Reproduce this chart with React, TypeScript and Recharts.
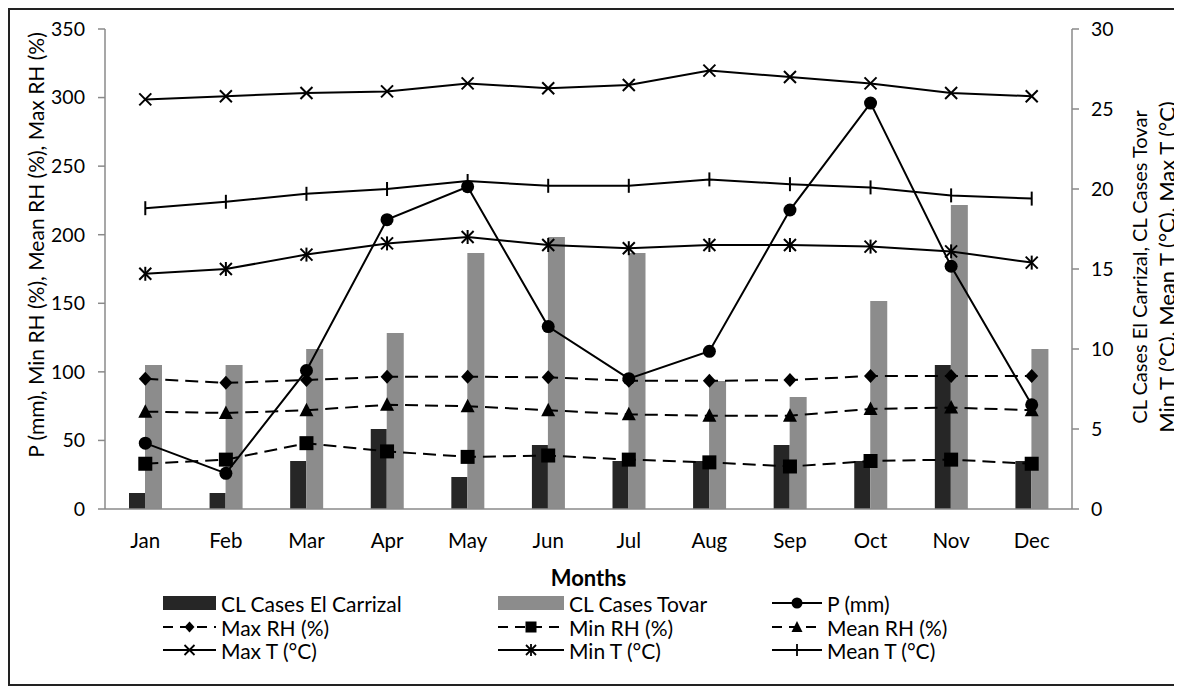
import React from 'react';
import { ComposedChart, Bar, Line, XAxis, YAxis, Legend } from 'recharts';

const months = ['Jan', 'Feb', 'Mar', 'Apr', 'May', 'Jun', 'Jul', 'Aug', 'Sep', 'Oct', 'Nov', 'Dec'];
const casesCarrizal = [1, 1, 3, 5, 2, 4, 3, 3, 4, 3, 9, 3];
const casesTovar = [9, 9, 10, 11, 16, 17, 16, 8, 7, 13, 19, 10];
const precip = [48, 26, 101, 211, 235, 133, 95, 115, 218, 296, 177, 76];
const maxRH = [95, 92, 94, 96.5, 96.5, 96, 93.5, 93.5, 94, 97, 97, 97];
const meanRH = [71, 70, 72, 76, 75, 72, 69, 68, 68, 73, 74, 72];
const minRH = [33, 36, 48, 42, 38, 39, 36, 34, 31, 35, 36, 33];
const maxT = [25.6, 25.8, 26.0, 26.1, 26.6, 26.3, 26.5, 27.4, 27.0, 26.6, 26.0, 25.8];
const meanT = [18.8, 19.2, 19.7, 20.0, 20.5, 20.2, 20.2, 20.6, 20.3, 20.1, 19.6, 19.4];
const minT = [14.7, 15.0, 15.9, 16.6, 17.0, 16.5, 16.3, 16.5, 16.5, 16.4, 16.1, 15.4];
const leftTicks = [0, 50, 100, 150, 200, 250, 300, 350];
const rightTicks = [0, 5, 10, 15, 20, 25, 30];

const data = months.map((m, i) => ({
  month: m,
  carrizal: casesCarrizal[i],
  tovar: casesTovar[i],
  p: precip[i],
  maxRH: maxRH[i],
  minRH: minRH[i],
  meanRH: meanRH[i],
  maxT: maxT[i],
  minT: minT[i],
  meanT: meanT[i],
}));

const FONT = 'Lato, Calibri, sans-serif';
const DASH = '13 7';

type ShapeFn = (cx: number, cy: number) => React.ReactNode;

const shapes: Record<string, ShapeFn> = {
  circle: (cx, cy) => <circle cx={cx} cy={cy} r={6.5} fill="#000" />,
  diamond: (cx, cy) => (
    <path d={`M${cx},${cy - 7}L${cx + 6.5},${cy}L${cx},${cy + 7}L${cx - 6.5},${cy}Z`} fill="#000" />
  ),
  square: (cx, cy) => <rect x={cx - 7} y={cy - 7} width={14} height={14} fill="#000" />,
  triangle: (cx, cy) => (
    <path d={`M${cx},${cy - 7.5}L${cx + 7},${cy + 6}L${cx - 7},${cy + 6}Z`} fill="#000" />
  ),
  cross: (cx, cy) => (
    <g stroke="#000" strokeWidth={2}>
      <line x1={cx - 6} y1={cy - 6} x2={cx + 6} y2={cy + 6} />
      <line x1={cx - 6} y1={cy + 6} x2={cx + 6} y2={cy - 6} />
    </g>
  ),
  star: (cx, cy) => (
    <g stroke="#000" strokeWidth={2}>
      <line x1={cx - 6} y1={cy - 6} x2={cx + 6} y2={cy + 6} />
      <line x1={cx - 6} y1={cy + 6} x2={cx + 6} y2={cy - 6} />
      <line x1={cx} y1={cy - 7} x2={cx} y2={cy + 7} />
    </g>
  ),
  tick: (cx, cy) => (
    <g stroke="#000" strokeWidth={2}>
      <line x1={cx} y1={cy - 7} x2={cx} y2={cy + 7} />
    </g>
  ),
};

const legendShapes: Record<string, ShapeFn> = {
  circle: (cx, cy) => <circle cx={cx} cy={cy} r={5.5} fill="#000" />,
  diamond: (cx, cy) => (
    <path d={`M${cx},${cy - 5.5}L${cx + 5},${cy}L${cx},${cy + 5.5}L${cx - 5},${cy}Z`} fill="#000" />
  ),
  square: (cx, cy) => <rect x={cx - 5.5} y={cy - 5.5} width={11} height={11} fill="#000" />,
  triangle: (cx, cy) => (
    <path d={`M${cx},${cy - 6}L${cx + 5.5},${cy + 5}L${cx - 5.5},${cy + 5}Z`} fill="#000" />
  ),
  cross: (cx, cy) => (
    <g stroke="#000" strokeWidth={1.8}>
      <line x1={cx - 5} y1={cy - 5} x2={cx + 5} y2={cy + 5} />
      <line x1={cx - 5} y1={cy + 5} x2={cx + 5} y2={cy - 5} />
    </g>
  ),
  star: (cx, cy) => (
    <g stroke="#000" strokeWidth={1.8}>
      <line x1={cx - 5} y1={cy - 5} x2={cx + 5} y2={cy + 5} />
      <line x1={cx - 5} y1={cy + 5} x2={cx + 5} y2={cy - 5} />
      <line x1={cx} y1={cy - 6} x2={cx} y2={cy + 6} />
    </g>
  ),
  tick: (cx, cy) => (
    <g stroke="#000" strokeWidth={1.8}>
      <line x1={cx} y1={cy - 6} x2={cx} y2={cy + 6} />
    </g>
  ),
};

const makeDot = (name: string, shape: string) => (props: any) => {
  const { cx, cy, index } = props;
  if (cx == null || cy == null) return <g key={`${name}-${index}`} />;
  return <g key={`${name}-${index}`}>{shapes[shape](cx, cy)}</g>;
};

const legendItems = [
  { label: 'CL Cases El Carrizal', kind: 'bar', color: '#262626' },
  { label: 'CL Cases Tovar', kind: 'bar', color: '#8c8c8c' },
  { label: 'P (mm)', kind: 'line', shape: 'circle', dash: false },
  { label: 'Max RH (%)', kind: 'line', shape: 'diamond', dash: true },
  { label: 'Min RH (%)', kind: 'line', shape: 'square', dash: true },
  { label: 'Mean RH (%)', kind: 'line', shape: 'triangle', dash: true },
  { label: 'Max T (°C)', kind: 'line', shape: 'cross', dash: false },
  { label: 'Min T (°C)', kind: 'line', shape: 'star', dash: false },
  { label: 'Mean T (°C)', kind: 'line', shape: 'tick', dash: false },
];

const colX = [153, 488, 762];
const colIconW = [53, 66, 50];
const rowY = [593, 617, 640];

const renderLegend = () => (
  <div style={{ position: 'relative', width: 1168, height: 90 }}>
    {legendItems.map((it, i) => {
      const col = i % 3;
      const row = Math.floor(i / 3);
      const x = colX[col];
      const y = rowY[row] - 580;
      const iconW = colIconW[col];
      return (
        <div
          key={it.label}
          style={{ position: 'absolute', left: x, top: y - 11, height: 22, display: 'flex', alignItems: 'center' }}
        >
          <svg width={iconW} height={22} style={{ display: 'block' }}>
            {it.kind === 'bar' ? (
              <rect x={0} y={4} width={iconW} height={14} fill={it.color} />
            ) : (
              <g>
                <line
                  x1={0}
                  y1={11}
                  x2={iconW}
                  y2={11}
                  stroke="#000"
                  strokeWidth={2}
                  strokeDasharray={it.dash ? '10 7' : undefined}
                />
                {legendShapes[it.shape as string](iconW / 2, 11)}
              </g>
            )}
          </svg>
          <span
            style={{
              fontFamily: FONT,
              fontSize: 21,
              lineHeight: '21px',
              color: '#000',
              marginLeft: 5,
              whiteSpace: 'nowrap',
            }}
          >
            {it.label}
          </span>
        </div>
      );
    })}
  </div>
);

const LeftLabel = () => {
  const cy = 235;
  const x = 25;
  return (
    <text
      x={x}
      y={cy}
      transform={`rotate(-90, ${x}, ${cy})`}
      textAnchor="middle"
      dominantBaseline="central"
      fontFamily={FONT}
      fontSize={21}
      fill="#000"
    >
      P (mm), Min RH (%), Mean RH (%), Max RH (%)
    </text>
  );
};

const RightLabel = (props: any) => {
  const vb = props.viewBox || {};
  const cy = vb.y + vb.height / 2 - 2;
  const x1 = 1129;
  const x2 = 1156;
  return (
    <g>
      <text
        x={x1}
        y={cy}
        transform={`rotate(-90, ${x1}, ${cy})`}
        textAnchor="middle"
        dominantBaseline="central"
        fontFamily={FONT}
        fontSize={20}
        fill="#000"
      >
        CL Cases El Carrizal, CL Cases Tovar
      </text>
      <text
        x={x2}
        y={cy}
        transform={`rotate(-90, ${x2}, ${cy})`}
        textAnchor="middle"
        dominantBaseline="central"
        fontFamily={FONT}
        fontSize={22}
        fill="#000"
      >
        Min T (°C), Mean T (°C), Max T (°C)
      </text>
    </g>
  );
};

const XLabel = (props: any) => {
  const vb = props.viewBox || {};
  const cx = vb.x + vb.width / 2;
  return (
    <text
      x={cx}
      y={567}
      textAnchor="middle"
      dominantBaseline="central"
      fontFamily={FONT}
      fontSize={22}
      fontWeight="bold"
      fill="#000"
    >
      Months
    </text>
  );
};

export default function App() {
  return (
    <div
      style={{
        position: 'relative',
        width: 1172,
        height: 678,
        border: '2px solid #222',
        boxSizing: 'border-box',
        background: '#fff',
      }}
    >
      <ComposedChart
        width={1168}
        height={674}
        data={data}
        margin={{ top: 19, right: 0, bottom: 115, left: 0 }}
        barGap={0}
        barCategoryGap="29%"
        style={{ fontFamily: FONT }}
      >
        <XAxis
          dataKey="month"
          tickLine={false}
          axisLine={{ stroke: '#8a8a8a', strokeWidth: 1.5 }}
          tick={{ fill: '#000', fontSize: 20.5, fontFamily: FONT }}
          tickMargin={18}
          height={60}
          label={<XLabel />}
        />
        <YAxis
          yAxisId="left"
          domain={[0, 350]}
          ticks={leftTicks}
          interval={0}
          width={95}
          axisLine={{ stroke: '#8a8a8a', strokeWidth: 1.5 }}
          tickLine={{ stroke: '#8a8a8a', strokeWidth: 1.5 }}
          tickSize={7}
          tickMargin={13}
          tick={{ fill: '#000', fontSize: 19.5, fontFamily: FONT }}
          label={<LeftLabel />}
        />
        <YAxis
          yAxisId="right"
          orientation="right"
          domain={[0, 30]}
          ticks={rightTicks}
          interval={0}
          width={106}
          axisLine={{ stroke: '#8a8a8a', strokeWidth: 1.5 }}
          tickLine={{ stroke: '#8a8a8a', strokeWidth: 1.5 }}
          tickSize={7}
          tickMargin={12}
          tick={{ fill: '#000', fontSize: 19.5, fontFamily: FONT }}
          label={<RightLabel />}
        />
        <Legend
          layout="vertical"
          align="center"
          verticalAlign="middle"
          wrapperStyle={{ left: 0, top: 580, width: 1168, height: 90 }}
          content={renderLegend}
        />
        <Bar yAxisId="right" dataKey="carrizal" fill="#262626" barSize={16} isAnimationActive={false} />
        <Bar yAxisId="right" dataKey="tovar" fill="#8c8c8c" barSize={17} isAnimationActive={false} />
        <Line
          yAxisId="left"
          dataKey="maxRH"
          type="linear"
          stroke="#000"
          strokeWidth={2}
          strokeDasharray={DASH}
          dot={makeDot('maxRH', 'diamond')}
          activeDot={false}
          isAnimationActive={false}
        />
        <Line
          yAxisId="left"
          dataKey="meanRH"
          type="linear"
          stroke="#000"
          strokeWidth={2}
          strokeDasharray={DASH}
          dot={makeDot('meanRH', 'triangle')}
          activeDot={false}
          isAnimationActive={false}
        />
        <Line
          yAxisId="left"
          dataKey="minRH"
          type="linear"
          stroke="#000"
          strokeWidth={2}
          strokeDasharray={DASH}
          dot={makeDot('minRH', 'square')}
          activeDot={false}
          isAnimationActive={false}
        />
        <Line
          yAxisId="right"
          dataKey="maxT"
          type="linear"
          stroke="#000"
          strokeWidth={2}
          dot={makeDot('maxT', 'cross')}
          activeDot={false}
          isAnimationActive={false}
        />
        <Line
          yAxisId="right"
          dataKey="meanT"
          type="linear"
          stroke="#000"
          strokeWidth={2}
          dot={makeDot('meanT', 'tick')}
          activeDot={false}
          isAnimationActive={false}
        />
        <Line
          yAxisId="right"
          dataKey="minT"
          type="linear"
          stroke="#000"
          strokeWidth={2}
          dot={makeDot('minT', 'star')}
          activeDot={false}
          isAnimationActive={false}
        />
        <Line
          yAxisId="left"
          dataKey="p"
          type="linear"
          stroke="#000"
          strokeWidth={2}
          dot={makeDot('p', 'circle')}
          activeDot={false}
          isAnimationActive={false}
        />
      </ComposedChart>
    </div>
  );
}
